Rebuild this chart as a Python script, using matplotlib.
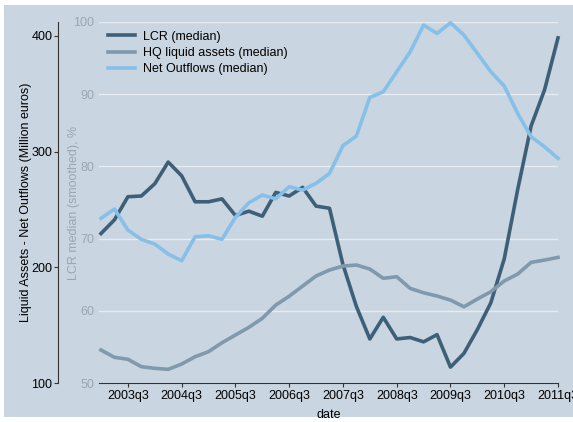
import matplotlib
matplotlib.use('Agg')
from matplotlib import pyplot as plt
from matplotlib.patches import Rectangle
from matplotlib.lines import Line2D

# quarters 2003q1 .. 2011q3
quarters = [f'{y}q{q}' for y in range(2003, 2012) for q in range(1, 5)][:35]

# LCR median (smoothed), %
lcr = [70.7, 72.6, 75.8, 75.9, 77.6, 80.6, 78.7, 75.1, 75.1, 75.5,
       73.2, 73.8, 73.1, 76.4, 75.9, 77.1, 74.5, 74.2, 66.4, 60.6,
       56.1, 59.1, 56.1, 56.3, 55.7, 56.7, 52.2, 54.1, 57.4, 61.1,
       67.2, 76.8, 85.6, 90.6, 97.8]

# million euros
hq_assets = [128.5, 122.2, 120.5, 114.1, 112.7, 111.8, 116.4, 122.7, 127.1, 134.8,
             141.5, 148.1, 155.9, 167.4, 175.0, 183.8, 192.5, 197.7, 201.1, 202.0,
             198.5, 190.5, 191.9, 181.8, 178.0, 175.2, 171.7, 165.9, 172.6, 178.9,
             188.2, 194.2, 204.3, 206.3, 208.6]
net_outflows = [242.4, 250.4, 232.2, 224.2, 220.1, 211.5, 205.7, 226.4, 227.3, 224.2,
                243.2, 255.8, 262.5, 259.2, 269.7, 266.8, 272.6, 281.2, 305.2, 313.5,
                346.9, 351.8, 369.1, 386.3, 409.4, 402.2, 411.4, 400.8, 385.0, 369.1,
                356.7, 333.1, 312.9, 304.2, 294.2]

tick_labels = ['2003q3', '2004q3', '2005q3', '2006q3', '2007q3',
               '2008q3', '2009q3', '2010q3', '2011q3']

bg = '#c9d5e0'
c_lcr = '#3d6078'
c_hq = '#8199ad'
c_net = '#86c0e8'
grey_txt = '#9aa6b0'
fs = 9

plt.rcParams['font.family'] = ['Liberation Sans', 'DejaVu Sans']

fig = plt.figure(figsize=(5.73, 4.22), dpi=100)
fig.patch.set_facecolor('white')
fig.patches.append(Rectangle((4/573, 5/422), 569/573, 412/422, transform=fig.transFigure,
                             facecolor=bg, edgecolor='none', zorder=-10))

W, H = 573, 422
ax = fig.add_axes([99/W, (H-383)/H, (558-99)/W, (383-22)/H])
ax.set_facecolor(bg)
x = list(range(len(quarters)))

# LCR on the % axis (main, with grid)
ax.plot(x, lcr, color=c_lcr, lw=2.6, clip_on=False)
ax.set_ylim(50, 100)
ax.set_xlim(-0.15, 34)
ax.set_yticks([50, 60, 70, 80, 90, 100])
ax.tick_params(axis='y', length=0, pad=3.5, labelcolor=grey_txt, labelsize=fs)
ax.set_ylabel('LCR median (smoothed), %', color=grey_txt, fontsize=fs)
ax.yaxis.set_label_coords(-0.042, 0.5)
ax.grid(axis='y', color='#e6ecf2', lw=1.0)
ax.set_axisbelow(True)
for s in ['top', 'right', 'left']:
    ax.spines[s].set_visible(False)
ax.spines['bottom'].set_color('#333333')
ax.spines['bottom'].set_linewidth(0.8)

idx = [quarters.index(t) for t in tick_labels]
ax.set_xticks(idx)
ax.set_xticklabels(tick_labels)
ax.tick_params(axis='x', length=3, width=0.8, color='#333333', labelsize=fs, pad=2)
ax.set_xlabel('date', fontsize=fs, labelpad=5)

# million euros axis
ax2 = ax.twinx()
ax2.plot(x, hq_assets, color=c_hq, lw=2.6, clip_on=False)
ax2.plot(x, net_outflows, color=c_net, lw=2.6, clip_on=False)
ax2.set_ylim(100, 412.1)
ax2.set_xlim(-0.15, 34)
ax2.yaxis.tick_left()
ax2.yaxis.set_label_position('left')
ax2.set_yticks([100, 200, 300, 400])
for s in ['top', 'right', 'bottom']:
    ax2.spines[s].set_visible(False)
ax2.spines['left'].set_visible(True)
ax2.spines['left'].set_position(('outward', 41 * 72 / 100))
ax2.spines['left'].set_color('#333333')
ax2.spines['left'].set_linewidth(0.8)
ax2.tick_params(axis='y', length=3, width=0.8, color='#333333', labelsize=fs, pad=1)
ax2.set_ylabel('Liquid Assets - Net Outflows (Million euros)', fontsize=fs)
ax2.yaxis.set_label_coords(-0.146, 0.5)

handles = [Line2D([], [], color=c_lcr, lw=2.6),
           Line2D([], [], color=c_hq, lw=2.6),
           Line2D([], [], color=c_net, lw=2.6)]
ax2.legend(handles, ['LCR (median)', 'HQ liquid assets (median)', 'Net Outflows (median)'],
           loc='upper left', bbox_to_anchor=(0.0, 1.0), frameon=False, fontsize=fs,
           handlelength=2.2, handletextpad=0.6, labelspacing=0.35, borderaxespad=0.3)

plt.savefig('out.png', dpi=100, facecolor=fig.get_facecolor())
